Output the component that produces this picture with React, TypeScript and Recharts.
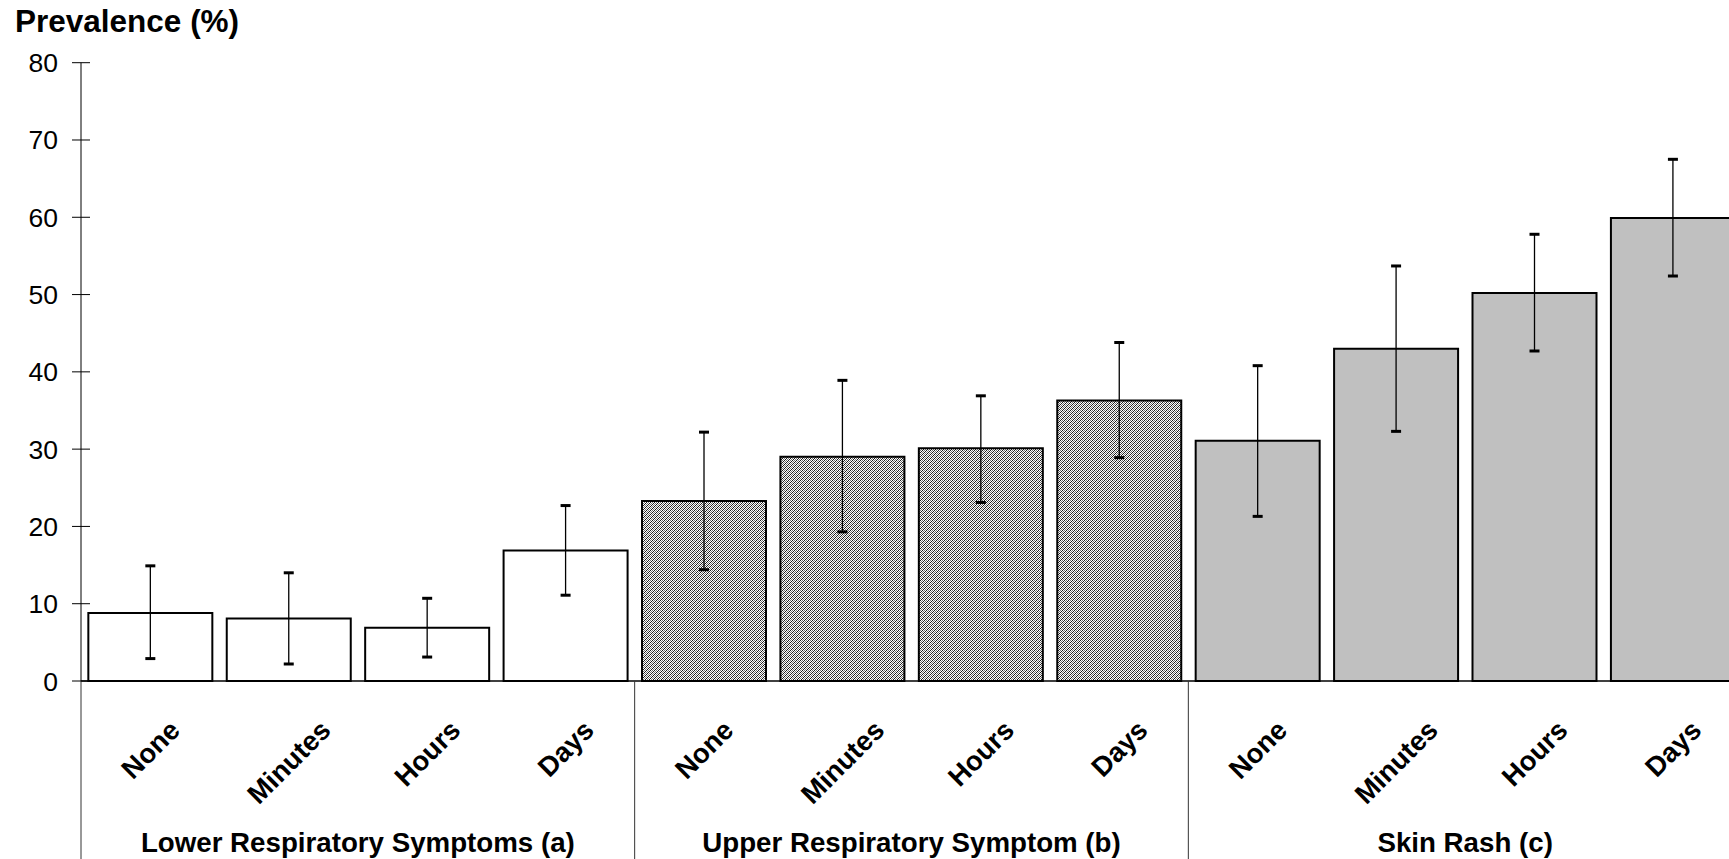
import { Bar, BarChart, Cell, ErrorBar, XAxis, YAxis } from 'recharts';

const durations = ['None', 'Minutes', 'Hours', 'Days'];
const groups = [
  'Lower Respiratory Symptoms (a)',
  'Upper Respiratory Symptom (b)',
  'Skin Rash (c)',
];

// prevalence (%) by symptom duration
const lowerResp = [8.8, 8.1, 6.9, 16.9];
const upperResp = [23.3, 29.0, 30.1, 36.3];
const skinRash = [31.1, 43.0, 50.2, 59.9];

// 95% CI bounds
const lowerRespLow = [2.9, 2.2, 3.1, 11.1];
const lowerRespHigh = [14.9, 14.0, 10.7, 22.7];
const upperRespLow = [14.4, 19.3, 23.1, 28.9];
const upperRespHigh = [32.2, 38.9, 36.9, 43.8];
const skinRashLow = [21.3, 32.3, 42.7, 52.4];
const skinRashHigh = [40.8, 53.7, 57.8, 67.5];

const yTicks = [0, 10, 20, 30, 40, 50, 60, 70, 80];

const series = [
  { values: lowerResp, low: lowerRespLow, high: lowerRespHigh },
  { values: upperResp, low: upperRespLow, high: upperRespHigh },
  { values: skinRash, low: skinRashLow, high: skinRashHigh },
];

const data = series.flatMap((s, g) =>
  durations.map((d, i) => ({
    key: `${g}-${d}`,
    label: d,
    group: g,
    value: s.values[i],
    err: [s.values[i] - s.low[i], s.high[i] - s.values[i]],
  })),
);

const FONT = '"Liberation Sans", Arial, sans-serif';
const groupFills = ['#ffffff', 'url(#hatch)', '#c0c0c0'];

const measureCtx =
  typeof document !== 'undefined'
    ? document.createElement('canvas').getContext('2d')
    : null;

function measure(text: string, font: string) {
  if (!measureCtx) return text.length * 15;
  measureCtx.font = font;
  return measureCtx.measureText(text).width;
}

function YTick(props: any) {
  const { x, y, payload } = props;
  return (
    <g>
      <line x1={x - 9} x2={x + 9} y1={y} y2={y} stroke="#000" strokeWidth={1} />
      <text
        x={x - 23}
        y={y}
        dy={9.5}
        textAnchor="end"
        fontFamily={FONT}
        fontSize={26.5}
        fill="#000"
      >
        {payload.value}
      </text>
    </g>
  );
}

function XTick(props: any) {
  const { x, y, payload, index } = props;
  const row = data[index];
  const half = payload.offset ?? 0;
  const fs = 27.5;
  const w = measure(row.label, `bold ${fs}px ${FONT}`);
  const capH = 0.716 * fs;
  const cy = y + 37 + 0.3536 * (w + capH);
  return (
    <g>
      {index % 4 === 0 && (
        <line
          x1={x - half}
          x2={x - half}
          y1={y}
          y2={y + 180}
          stroke="#333"
          strokeWidth={1}
        />
      )}
      <text
        x={x}
        y={cy}
        dy={0.358 * fs}
        textAnchor="middle"
        fontFamily={FONT}
        fontWeight="bold"
        fontSize={fs}
        fill="#000"
        transform={`rotate(-45 ${x} ${cy})`}
      >
        {row.label}
      </text>
      {index % 4 === 1 && (
        <text
          x={x + half}
          y={y + 171}
          textAnchor="middle"
          fontFamily={FONT}
          fontWeight="bold"
          fontSize={27.7}
          fill="#000"
        >
          {groups[row.group]}
        </text>
      )}
    </g>
  );
}

// fine checkered fill used by the second group
const hatchCells = [
  [0, 0, '#1a1a1a'],
  [2, 0, '#707070'],
  [1, 1, '#707070'],
  [3, 1, '#1a1a1a'],
  [0, 2, '#707070'],
  [2, 2, '#1a1a1a'],
  [1, 3, '#1a1a1a'],
  [3, 3, '#707070'],
] as const;

export default function App() {
  return (
    <div
      style={{
        position: 'absolute',
        left: 0,
        top: 0,
        width: 1729,
        height: 859,
        overflow: 'hidden',
        background: '#fff',
      }}
    >
      <style>{`.recharts-errorBar line:nth-of-type(2n+1){stroke-width:3px}`}</style>
      <div
        style={{
          position: 'absolute',
          left: 15,
          top: 1,
          fontFamily: FONT,
          fontWeight: 'bold',
          fontSize: 31.5,
          lineHeight: '40px',
          color: '#000',
        }}
      >
        Prevalence (%)
      </div>
      <BarChart
        width={1742}
        height={859}
        data={data}
        margin={{ top: 62.7, right: 0, bottom: 0, left: 0 }}
        barCategoryGap="5.3%"
      >
        <defs>
          <pattern id="hatch" width={4} height={4} patternUnits="userSpaceOnUse">
            <rect width={4} height={4} fill="#ffffff" />
            {hatchCells.map(([cx, cy, c]) => (
              <rect key={`${cx}-${cy}`} x={cx} y={cy} width={1} height={1} fill={c} />
            ))}
          </pattern>
        </defs>
        <XAxis
          dataKey="key"
          interval={0}
          height={178}
          tickSize={0}
          tickMargin={0}
          tickLine={false}
          axisLine={{ stroke: '#000', strokeWidth: 1.5 }}
          tick={<XTick />}
        />
        <YAxis
          domain={[0, 80]}
          ticks={yTicks}
          width={81}
          tickSize={0}
          tickMargin={0}
          tickLine={false}
          axisLine={{ stroke: '#000', strokeWidth: 1 }}
          tick={<YTick />}
        />
        <Bar
          dataKey="value"
          stroke="#000"
          strokeWidth={2}
          isAnimationActive={false}
        >
          {data.map((d) => (
            <Cell key={d.key} fill={groupFills[d.group]} />
          ))}
          <ErrorBar
            dataKey="err"
            width={5}
            stroke="#000"
            strokeWidth={1.3}
            isAnimationActive={false}
          />
        </Bar>
      </BarChart>
    </div>
  );
}
